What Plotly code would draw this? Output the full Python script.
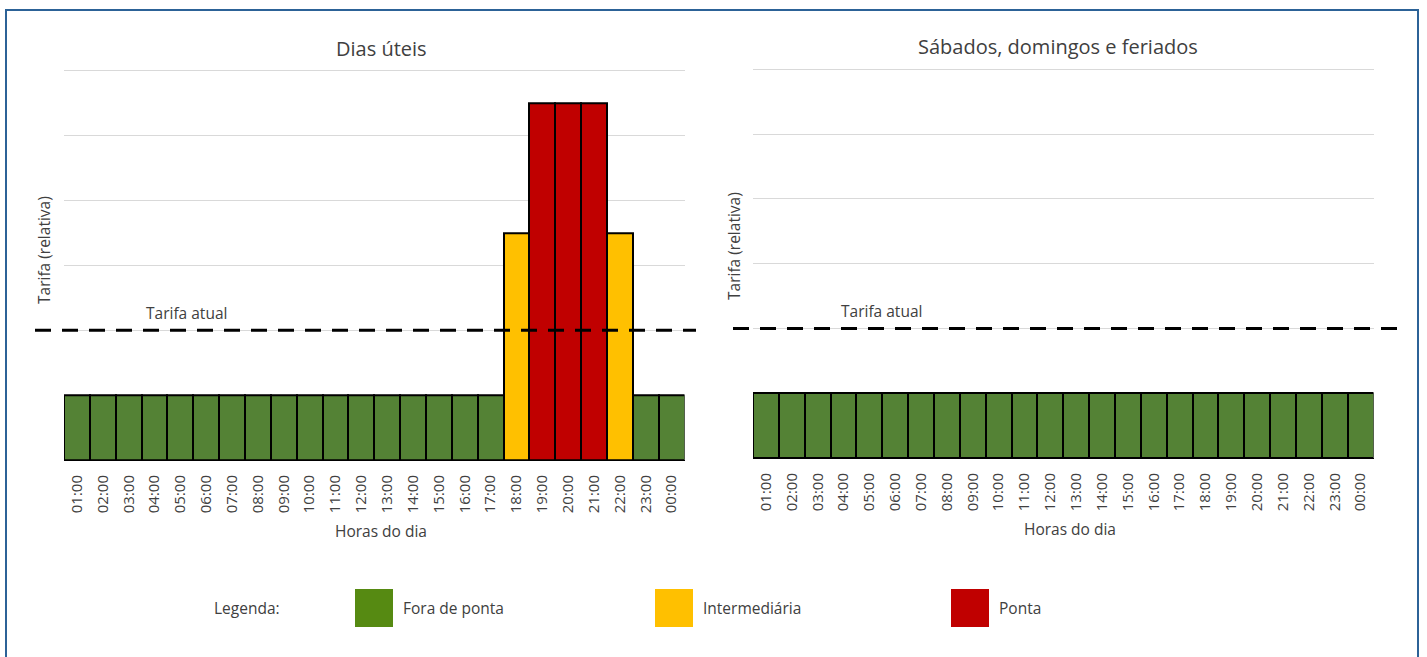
import plotly.graph_objects as go

# Hour labels along the x axis
hours = ["01:00", "02:00", "03:00", "04:00", "05:00", "06:00", "07:00", "08:00",
         "09:00", "10:00", "11:00", "12:00", "13:00", "14:00", "15:00", "16:00",
         "17:00", "18:00", "19:00", "20:00", "21:00", "22:00", "23:00", "00:00"]

# Relative tariff per hour, working days
weekday_tariff = [1, 1, 1, 1, 1, 1, 1, 1, 1, 1, 1, 1, 1, 1, 1, 1, 1,
                  3.5, 5.5, 5.5, 5.5, 3.5, 1, 1]
weekday_tier = ["off"] * 17 + ["mid", "peak", "peak", "peak", "mid", "off", "off"]

# Relative tariff per hour, weekends and holidays
weekend_tariff = [1] * 24
weekend_tier = ["off"] * 24

# Current flat tariff
current_tariff = 2

tier_colors = {"off": "#548235", "mid": "#FFC000", "peak": "#C00000"}
legend_labels = ["Fora de ponta", "Intermediária", "Ponta"]
legend_colors = ["#568A12", "#FFC000", "#C00000"]

FONT = "Open Sans, Segoe UI, sans-serif"
TXT = "#404040"
W, H = 1427, 657
YMAX = 6.05

fig = go.Figure()

fig.add_trace(go.Bar(
    x=hours, y=weekday_tariff, xaxis="x", yaxis="y",
    marker=dict(color=[tier_colors[t] for t in weekday_tier],
                line=dict(color="black", width=2)),
    showlegend=False, hoverinfo="x+y"))
fig.add_trace(go.Bar(
    x=hours, y=weekend_tariff, xaxis="x2", yaxis="y2",
    marker=dict(color=[tier_colors[t] for t in weekend_tier],
                line=dict(color="black", width=2)),
    showlegend=False, hoverinfo="x+y"))

xcommon = dict(type="category", range=[-0.5, 23.5], tickangle=-90,
               tickfont=dict(family=FONT, size=15, color=TXT),
               showgrid=False, showline=True, linecolor="black", linewidth=1,
               ticks="", ticklabelstandoff=8, fixedrange=True)
ycommon = dict(range=[0, YMAX], dtick=1, showticklabels=False, showgrid=True,
               gridcolor="#D9D9D9", gridwidth=1, zeroline=False, ticks="",
               fixedrange=True)

L0, L1 = 64 / W, 684.5 / W
R0, R1 = 753 / W, 1373.5 / W
# pixel positions of the baselines and of the "6" gridlines
lb, lt = 460.0, 70.5
rb, rt = 458.0, 69.3
ltop = lb - (lb - lt) / 6 * YMAX
rtop = rb - (rb - rt) / 6 * YMAX

fig.update_layout(
    width=W, height=H,
    margin=dict(l=0, r=0, t=0, b=0),
    paper_bgcolor="white", plot_bgcolor="white",
    bargap=0,
    font=dict(family=FONT, color=TXT),
    xaxis=dict(domain=[L0, L1], anchor="y", **xcommon),
    yaxis=dict(domain=[1 - lb / H, 1 - ltop / H], anchor="x", **ycommon),
    xaxis2=dict(domain=[R0, R1], anchor="y2", **xcommon),
    yaxis2=dict(domain=[1 - rb / H, 1 - rtop / H], anchor="x2", **ycommon),
)

shapes = []
# Current tariff reference lines
shapes.append(dict(type="line", xref="paper", yref="y", x0=35 / W, x1=696 / W,
                   y0=current_tariff, y1=current_tariff,
                   line=dict(color="black", width=3, dash="16px,11px")))
shapes.append(dict(type="line", xref="paper", yref="y2", x0=733 / W, x1=1404 / W,
                   y0=current_tariff, y1=current_tariff,
                   line=dict(color="black", width=3, dash="16px,11px")))
# Outer frame
shapes.append(dict(type="rect", xref="paper", yref="paper",
                   x0=6 / W, x1=1418 / W, y0=-0.02, y1=1 - 10 / H,
                   line=dict(color="#2C6297", width=2), fillcolor="rgba(0,0,0,0)"))

annotations = []


def text(x, y, s, size, angle=0, xanchor="center"):
    annotations.append(dict(xref="paper", yref="paper", x=x / W, y=1 - y / H,
                            text=s, showarrow=False, textangle=angle,
                            xanchor=xanchor, yanchor="middle",
                            font=dict(family=FONT, size=size, color=TXT)))


text(381, 48, "Dias úteis", 20)
text(1058, 47, "Sábados, domingos e feriados", 20)
text(44, 250, "Tarifa (relativa)", 15.5, angle=-90)
text(734, 246, "Tarifa (relativa)", 15.5, angle=-90)
text(144, 313, "Tarifa atual", 15.5, xanchor="left")
text(839, 311, "Tarifa atual", 15.5, xanchor="left")
text(381, 531, "Horas do dia", 15.5)
text(1070, 529, "Horas do dia", 15.5)

# Legend row
text(212, 608, "Legenda:", 15.5, xanchor="left")
legend_x = [355, 655, 951]
for lx, lab, col in zip(legend_x, legend_labels, legend_colors):
    shapes.append(dict(type="rect", xref="paper", yref="paper",
                       x0=lx / W, x1=(lx + 38) / W,
                       y0=1 - 627 / H, y1=1 - 589 / H,
                       line=dict(width=0), fillcolor=col))
    text(lx + 46, 608, lab, 15.5, xanchor="left")

fig.update_layout(shapes=shapes, annotations=annotations)

fig.write_html("out.html")
